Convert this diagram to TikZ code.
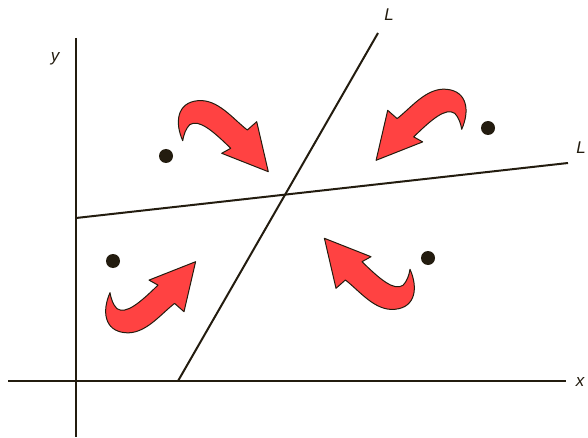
\documentclass[tikz,border=0pt]{standalone}
\usepackage{fontspec}
\setmainfont{Liberation Sans}
\definecolor{inkline}{RGB}{35,28,15}
\definecolor{arrowred}{RGB}{255,66,66}
\tikzset{
  lbl/.style={font=\fontsize{17}{17}\selectfont\itshape,text=inkline,inner sep=0pt},
  thickline/.style={draw=inkline,line width=2pt},
  spot/.style={circle,fill=inkline,inner sep=0pt,minimum size=14pt},
  turnarrow/.style={fill=arrowred,draw=inkline,line width=1pt,line join=round}
}
\newcommand{\turnshape}{%
  (0,0) .. controls (-8,-18) and (-6,-38) .. (15,-40)
  .. controls (35,-42) and (50,-22) .. (64.6,-10.7) -- (74,-19) -- (85.6,31)
  -- (39,12.6) -- (48,7.6) .. controls (30,-10) and (16,-22) .. (7,-16)
  .. controls (3,-12) and (1,-6) .. (0,0) -- cycle}
\begin{document}
\begin{tikzpicture}[x=1pt,y=-1pt]
\useasboundingbox (0,0) rectangle (588,438);
\coordinate (xa) at (8,381);
\coordinate (xb) at (566,381);
\coordinate (ya) at (76,38);
\coordinate (yb) at (76,437);
\coordinate (la) at (178,381);
\coordinate (lb) at (378,33);
\coordinate (ma) at (76,218);
\coordinate (mb) at (568,163);
\draw[thickline] (xa) -- (xb);
\draw[thickline] (ya) -- (yb);
\draw[thickline] (la) -- (lb);
\draw[thickline] (ma) -- (mb);
\node[lbl] (xlabel) at (580,382) {x};
\node[lbl] (ylabel) at (55,59) {y};
\node[lbl] (llabel) at (389,15) {L};
\node[lbl] (mlabel) at (581,148) {L};
\node[spot] (p1) at (166,156) {};
\node[spot] (p2) at (488,128) {};
\node[spot] (p3) at (113,261) {};
\node[spot] (p4) at (428,258) {};
\begin{scope}[shift={(182.7,140.7)}]
  \draw[turnarrow] \turnshape;
\end{scope}
\begin{scope}[shift={(461.7,129.3)},xscale=-1]
  \draw[turnarrow] \turnshape;
\end{scope}
\begin{scope}[shift={(110,292.7)},yscale=-1]
  \draw[turnarrow] \turnshape;
\end{scope}
\begin{scope}[shift={(410,269.3)},xscale=-1,yscale=-1]
  \draw[turnarrow] \turnshape;
\end{scope}
\end{tikzpicture}
\end{document}
